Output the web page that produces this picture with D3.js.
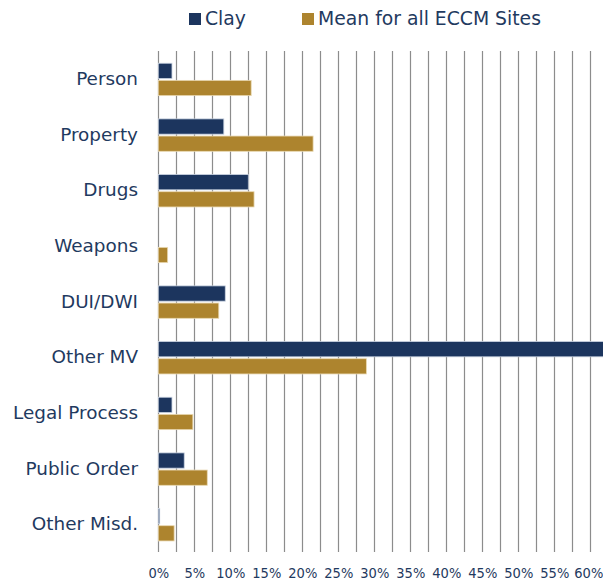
<!DOCTYPE html>
<html>
<head>
<meta charset="utf-8">
<script src="https://cdn.jsdelivr.net/npm/d3@7"></script>
<style>
  body { margin: 0; background: #fff; overflow: hidden; }
  svg { display: block; }
  text { font-family: "DejaVu Sans", Verdana, sans-serif; fill: #1f3a60; }
</style>
</head>
<body>
<svg id="chart" width="603" height="583"></svg>
<script>
// offense categories, top to bottom
var categories = ["Person", "Property", "Drugs", "Weapons", "DUI/DWI", "Other MV", "Legal Process", "Public Order", "Other Misd."];
var seriesNames = ["Clay", "Mean for all ECCM Sites"];
// percent values
var clayValues = [1.9, 9.1, 12.5, 0, 9.3, 64, 1.9, 3.6, 0.2];
var meanValues = [12.9, 21.5, 13.3, 1.3, 8.4, 28.9, 4.8, 6.8, 2.2];
var tickLabels = [0, 5, 10, 15, 20, 25, 30, 35, 40, 45, 50, 55, 60];

var colors = ["#1c355e", "#ad842e"];

var svg = d3.select("#chart");
var W = 603, H = 583;
var plotLeft = 158.3, plotTop = 51, plotBottom = 552;

var x = d3.scaleLinear().domain([0, 62.5]).range([plotLeft, plotLeft + 7.2 * 62.5]);
var y = d3.scaleBand().domain(categories).range([plotTop, plotBottom]);
var inner = d3.scaleBand().domain(seriesNames).range([-16.2, 16.2]).paddingInner(0.11);

svg.append("clipPath").attr("id", "clip")
  .append("rect").attr("x", 0).attr("y", 0).attr("width", W).attr("height", H);

// vertical gridlines every 2.5%
var grid = svg.append("g").attr("class", "grid");
grid.selectAll("line")
  .data(d3.range(0, 62.5, 2.5))
  .enter().append("line")
  .attr("x1", function(d) { return Math.round(x(d)) + 0.5; })
  .attr("x2", function(d) { return Math.round(x(d)) + 0.5; })
  .attr("y1", plotTop)
  .attr("y2", plotBottom)
  .attr("stroke", "#8c8c8c")
  .attr("stroke-width", 1.2);

var rows = categories.map(function(c, i) {
  return { cat: c, vals: [clayValues[i], meanValues[i]] };
});

var groups = svg.append("g").attr("clip-path", "url(#clip)")
  .selectAll("g.row")
  .data(rows)
  .enter().append("g")
  .attr("class", "row")
  .attr("transform", function(d) { return "translate(0," + (y(d.cat) + y.bandwidth() / 2 + 0.6) + ")"; });

groups.selectAll("rect")
  .data(function(d) { return d.vals.map(function(v, j) { return { v: v, s: seriesNames[j], j: j }; }); })
  .enter().append("rect")
  .attr("x", x(0))
  .attr("y", function(d) { return inner(d.s); })
  .attr("width", function(d) { return Math.max(0, x(d.v) - x(0)); })
  .attr("height", inner.bandwidth())
  .attr("fill", function(d) { return colors[d.j]; })
  .attr("stroke", function(d) { return d.j == 0 ? "#c9d2e0" : "#e9d9b3"; })
  .attr("stroke-width", 0.8);

// category labels
svg.append("g").selectAll("text")
  .data(categories)
  .enter().append("text")
  .attr("x", 138)
  .attr("y", function(d) { return y(d) + y.bandwidth() / 2 + 1; })
  .attr("text-anchor", "end")
  .attr("dominant-baseline", "middle")
  .style("font-size", "18.4px")
  .text(function(d) { return d; });

// x tick labels
var xAxis = d3.axisBottom(x).tickValues(tickLabels).tickSize(0).tickFormat(function(d) { return d + "%"; });
var ax = svg.append("g").attr("transform", "translate(0," + 565 + ")").call(xAxis);
ax.select(".domain").remove();
ax.selectAll("text")
  .style("font-family", "'DejaVu Sans Condensed', 'DejaVu Sans', sans-serif")
  .style("font-size", "14.5px")
  .attr("fill", "#1f3a60");
// keep the last label inside the picture
ax.selectAll(".tick").filter(function(d) { return d == 60; }).select("text").attr("dx", "-2");

// legend
var legend = svg.append("g");
var legendX = [189, 302];
seriesNames.forEach(function(name, i) {
  legend.append("rect")
    .attr("x", legendX[i]).attr("y", 13)
    .attr("width", 12).attr("height", 12)
    .attr("fill", colors[i]);
  legend.append("text")
    .attr("x", legendX[i] + 16).attr("y", 19.5)
    .attr("dominant-baseline", "middle")
    .style("font-size", "18.8px")
    .text(name);
});
</script>
</body>
</html>
